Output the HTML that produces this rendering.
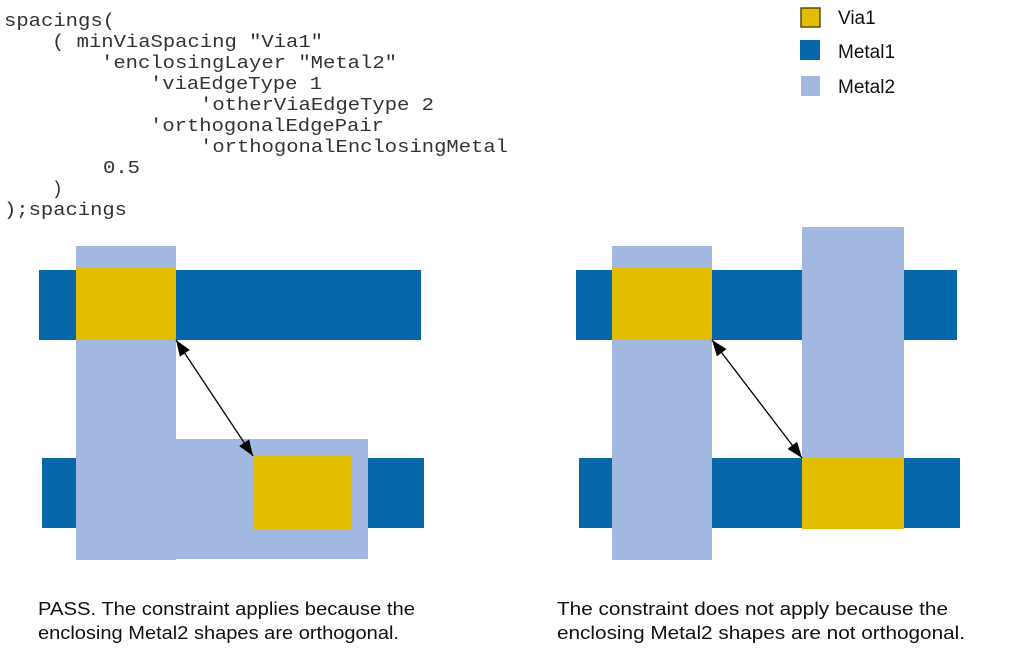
<!DOCTYPE html>
<html><head><meta charset="utf-8"><style>
html,body{margin:0;padding:0;background:#fff;}
svg{display:block;}
</style></head><body>
<svg width="1013" height="666" xmlns="http://www.w3.org/2000/svg">
<defs>
<marker id="ah" markerWidth="16" markerHeight="12" refX="16" refY="6" orient="auto-start-reverse" markerUnits="userSpaceOnUse">
<path d="M0,0 L16,6 L0,12 z" fill="#000"/>
</marker>
</defs>
<g font-family="Liberation Mono, monospace" font-size="18" fill="#333">
<text x="4" y="26" textLength="111" lengthAdjust="spacingAndGlyphs">spacings(</text>
<text x="52" y="47" textLength="271" lengthAdjust="spacingAndGlyphs">( minViaSpacing "Via1"</text>
<text x="101" y="68" textLength="296" lengthAdjust="spacingAndGlyphs">'enclosingLayer "Metal2"</text>
<text x="150" y="89" textLength="172" lengthAdjust="spacingAndGlyphs">'viaEdgeType 1</text>
<text x="200" y="110" textLength="234" lengthAdjust="spacingAndGlyphs">'otherViaEdgeType 2</text>
<text x="150" y="131" textLength="234" lengthAdjust="spacingAndGlyphs">'orthogonalEdgePair</text>
<text x="200" y="152" textLength="308" lengthAdjust="spacingAndGlyphs">'orthogonalEnclosingMetal</text>
<text x="103" y="173" textLength="37" lengthAdjust="spacingAndGlyphs">0.5</text>
<text x="52" y="194">)</text>
<text x="4" y="215" textLength="123" lengthAdjust="spacingAndGlyphs">);spacings</text>
</g>
<!-- legend -->
<rect x="801" y="8" width="19" height="19" fill="#e3bd00" stroke="#5a4a10" stroke-width="1.5"/>
<rect x="800" y="40" width="20" height="20" fill="#0867a8"/>
<rect x="801" y="76" width="19" height="20" fill="#a2b8e0"/>
<g font-family="Liberation Sans, sans-serif" font-size="19" fill="#111">
<text x="838" y="24">Via1</text>
<text x="838" y="58">Metal1</text>
<text x="838" y="93">Metal2</text>
</g>
<!-- left diagram -->
<rect x="39" y="270" width="382" height="70" fill="#0867a8"/>
<rect x="42" y="458" width="382" height="70" fill="#0867a8"/>
<rect x="76" y="246" width="100" height="314" fill="#a2b8e0"/>
<rect x="176" y="439" width="192" height="120" fill="#a2b8e0"/>
<rect x="76" y="268" width="100" height="72" fill="#e3bd00"/>
<rect x="253" y="456" width="99" height="73" fill="#e3bd00"/>
<line x1="176" y1="340" x2="253" y2="456" stroke="#000" stroke-width="1.3" marker-start="url(#ah)" marker-end="url(#ah)"/>
<!-- right diagram -->
<rect x="576" y="270" width="381" height="70" fill="#0867a8"/>
<rect x="579" y="458" width="381" height="70" fill="#0867a8"/>
<rect x="612" y="246" width="100" height="314" fill="#a2b8e0"/>
<rect x="802" y="227" width="102" height="302" fill="#a2b8e0"/>
<rect x="612" y="268" width="100" height="72" fill="#e3bd00"/>
<rect x="802" y="458" width="102" height="71" fill="#e3bd00"/>
<line x1="712" y1="340" x2="802" y2="458" stroke="#000" stroke-width="1.3" marker-start="url(#ah)" marker-end="url(#ah)"/>
<!-- captions -->
<g font-family="Liberation Sans, sans-serif" font-size="18" fill="#111">
<text x="38" y="615" textLength="377" lengthAdjust="spacingAndGlyphs">PASS. The constraint applies because the</text>
<text x="38" y="639" textLength="361" lengthAdjust="spacingAndGlyphs">enclosing Metal2 shapes are orthogonal.</text>
<text x="557" y="615" textLength="391" lengthAdjust="spacingAndGlyphs">The constraint does not apply because the</text>
<text x="557" y="639" textLength="408" lengthAdjust="spacingAndGlyphs">enclosing Metal2 shapes are not orthogonal.</text>
</g>
</svg>
</body></html>
